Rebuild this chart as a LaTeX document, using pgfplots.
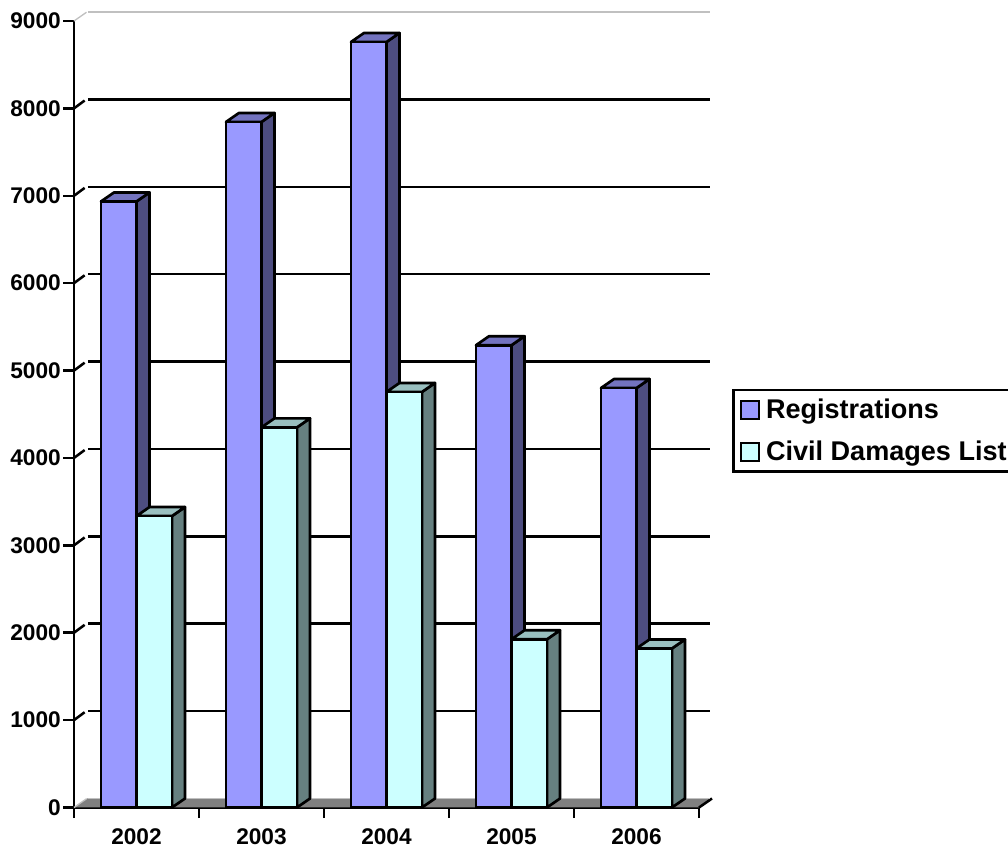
\documentclass[border=0pt]{standalone}
\usepackage{pgfplots}
\pgfplotsset{compat=1.18}
\usepackage{fontspec}
\setmainfont{Liberation Sans}
\definecolor{regfront}{HTML}{9999FF}
\definecolor{regside}{HTML}{4D4D80}
\definecolor{regtop}{HTML}{7373BF}
\definecolor{civfront}{HTML}{CCFFFF}
\definecolor{civside}{HTML}{668080}
\definecolor{civtop}{HTML}{99BFBF}
\definecolor{floorgrey}{HTML}{808080}
\definecolor{wallgrey}{HTML}{C0C0C0}
% depth of the pseudo-3D extrusion, in data units
\newcommand{\depthx}{0.104}
\newcommand{\depthy}{103}
\newcommand{\barw}{0.284}
% side and top faces of one column: left edge, value, side colour, top colour
\newcommand{\barfaces}[4]{%
  \pgfmathsetmacro\xr{#1+\barw}%
  \pgfmathsetmacro\xrb{#1+\barw+\depthx}%
  \pgfmathsetmacro\xlb{#1+\depthx}%
  \pgfmathsetmacro\vb{#2+\depthy}%
  \addplot[forget plot,fill=#3,draw=black,line width=2pt,line join=round]
    coordinates {(\xr,0) (\xrb,\depthy) (\xrb,\vb) (\xr,#2)} --cycle;
  \addplot[forget plot,fill=#4,draw=black,line width=2pt,line join=round]
    coordinates {(#1,#2) (\xlb,\vb) (\xrb,\vb) (\xr,#2)} --cycle;
}
% one rear-wall gridline and the short diagonal that ties it to the axis
\newcommand{\wallgrid}[1]{%
  \pgfmathsetmacro\vb{#1+\depthy}%
  \pgfmathsetmacro\vm{#1+90}%
  \addplot[forget plot,black,line width=1.9pt] coordinates {(-0.5,#1) (-0.415,\vm)};
  \addplot[forget plot,black,line width=1.9pt] coordinates {(-0.39,\vb) (4.59,\vb)};
}
\begin{document}
\begin{tikzpicture}
\useasboundingbox (0,0) rectangle (756pt,635.25pt);
\begin{axis}[
  at={(55.5pt,29.625pt)}, anchor=south west,
  scale only axis, width=468.75pt, height=589.875pt,
  xmin=-0.5, xmax=4.5, ymin=0, ymax=9000,
  clip=false,
  axis lines=left,
  axis line style={-,line width=1.9pt},
  tick style={black,line width=1.9pt},
  tick align=outside,
  major tick length=8pt,
  minor tick length=8pt,
  ytick={0,1000,...,9000},
  xtick={0,1,2,3,4},
  xticklabels={2002,2003,2004,2005,2006},
  minor xtick={-0.5,0.5,1.5,2.5,3.5,4.5},
  x tick style={draw=none},
  minor x tick style={draw=black,line width=1.9pt},
  ytick pos=left,
  /pgf/number format/assume math mode=true,
  /pgf/number format/1000 sep={},
  scaled y ticks=false,
  tick label style={font=\fontsize{17pt}{18pt}\selectfont\bfseries},
  y tick label style={xshift=1.6pt},
  x tick label style={yshift=-4pt},
  legend style={
    at={(axis cs:4.764,4790)}, anchor=north west,
    draw=black, line width=1.9pt, fill=white,
    font=\fontsize{20.3pt}{22pt}\selectfont\bfseries,
    inner xsep=5.2pt, inner ysep=4.7pt,
    row sep=11.2pt,
    nodes={inner sep=2pt},
  },
  legend cell align=left,
]
% floor
\addplot[forget plot,fill=floorgrey,draw=none]
  coordinates {(-0.5,0) (-0.396,103) (4.604,103) (4.5,0)} --cycle;
\addplot[forget plot,black,line width=1.9pt] coordinates {(4.5,0) (4.604,103)};
\addplot[forget plot,wallgrey,line width=1pt] coordinates {(-0.39,103) (4.59,103)};
\addplot[forget plot,wallgrey,line width=1pt] coordinates {(-0.5,0) (-0.40,100)};
% rear wall
\addplot[forget plot,wallgrey,line width=1pt] coordinates {(-0.39,9103) (4.59,9103)};
\addplot[forget plot,wallgrey,line width=1pt] coordinates {(-0.5,9000) (-0.40,9100)};
\wallgrid{1000}\wallgrid{2000}\wallgrid{3000}\wallgrid{4000}
\wallgrid{5000}\wallgrid{6000}\wallgrid{7000}\wallgrid{8000}
% extruded faces
\barfaces{-0.284}{6935}{regside}{regtop}
\barfaces{0.716}{7845}{regside}{regtop}
\barfaces{1.716}{8760}{regside}{regtop}
\barfaces{2.716}{5290}{regside}{regtop}
\barfaces{3.716}{4800}{regside}{regtop}
\barfaces{0}{3335}{civside}{civtop}
\barfaces{1}{4350}{civside}{civtop}
\barfaces{2}{4755}{civside}{civtop}
\barfaces{3}{1925}{civside}{civtop}
\barfaces{4}{1820}{civside}{civtop}
% front faces
\addplot[forget plot,ybar,bar width=0.284,bar shift=-0.142,fill=regfront,draw=black,line width=2pt]
  coordinates {(0,6935) (1,7845) (2,8760) (3,5290) (4,4800)};
\addplot[forget plot,ybar,bar width=0.284,bar shift=0.142,fill=civfront,draw=black,line width=2pt]
  coordinates {(0,3335) (1,4350) (2,4755) (3,1925) (4,1820)};
% legend
\addlegendimage{legend image code/.code={\draw[fill=regfront,draw=black,line width=1.6pt] (0pt,-6.7pt) rectangle (13.4pt,6.7pt); \path (15.6pt,0pt);}}
\addlegendentry{Registrations}
\addlegendimage{legend image code/.code={\draw[fill=civfront,draw=black,line width=1.6pt] (0pt,-6.7pt) rectangle (13.4pt,6.7pt); \path (15.6pt,0pt);}}
\addlegendentry{Civil Damages List}
\end{axis}
\end{tikzpicture}
\end{document}
